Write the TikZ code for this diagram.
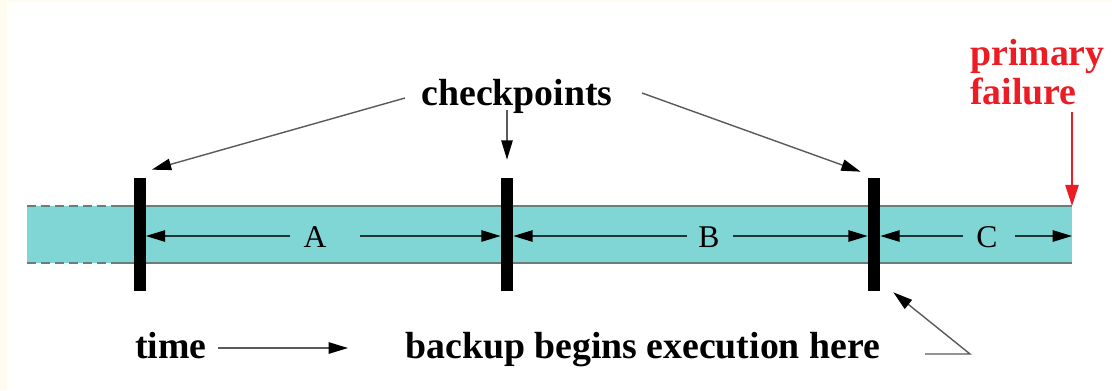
\documentclass[tikz,border=0pt]{standalone}
\usepackage{fontspec}
\setmainfont{Liberation Serif}
\usetikzlibrary{arrows.meta}
\definecolor{bandfill}{RGB}{128,213,213}
\definecolor{bandedge}{RGB}{105,125,125}
\definecolor{failred}{RGB}{236,28,36}
\definecolor{paper}{RGB}{255,251,238}
\definecolor{leader}{RGB}{90,90,90}
\tikzset{
  leaderline/.style={draw=leader, line width=0.8pt, arrows={-{Triangle[length=11pt,width=6.5pt,fill=black,color=black]}}},
  spanline/.style={draw=black!75!bandfill, line width=0.8pt, arrows={-{Triangle[length=11pt,width=6.5pt,fill=black,color=black]}}},
  ckbar/.style={fill=black, minimum width=0.24cm, minimum height=2.26cm, inner sep=0pt, draw=none},
  bigword/.style={font=\bfseries\fontsize{21.5}{24}\selectfont, inner sep=0pt},
  spanword/.style={font=\fontsize{18}{20}\selectfont, inner sep=0pt},
}
\begin{document}
\begin{tikzpicture}[x=0.02cm, y=-0.02cm]
  % page and its cream margin
  \useasboundingbox (0,0) rectangle (1112,390);
  \fill[white] (0,0) rectangle (1112,390);
  \fill[paper] (0,0) rectangle (7,390);
  \fill[paper] (0,0) rectangle (1112,2);

  % the time band
  \fill[bandfill] (27,206) rectangle (1072,263);
  \draw[bandedge, line width=0.9pt, dash pattern=on 5pt off 3pt] (27,206) -- (113,206);
  \draw[bandedge, line width=0.9pt, dash pattern=on 5pt off 3pt] (27,263) -- (113,263);
  \draw[bandedge, line width=0.9pt] (113,206) -- (1072,206);
  \draw[bandedge, line width=0.9pt] (113,263) -- (1072,263);

  % checkpoint bars
  \node[ckbar] (k1) at (139.5,234.5) {};
  \node[ckbar] (k2) at (507,234.5) {};
  \node[ckbar] (k3) at (874,234.5) {};

  % interval labels
  \node[spanword, anchor=base] (A) at (315,247) {A};
  \node[spanword, anchor=base] (B) at (709,247) {B};
  \node[spanword, anchor=base] (C) at (987,247) {C};
  \coordinate (aL) at (290,236);  \coordinate (aR) at (360,236);
  \coordinate (bL) at (687,236);  \coordinate (bR) at (733,236);
  \coordinate (cL) at (963,236);  \coordinate (cR) at (1015,236);
  \coordinate (fail) at (1072,206);
  \draw[spanline] (aL) -- (k1.east |- aL);
  \draw[spanline] (aR) -- (k2.west |- aR);
  \draw[spanline] (bL) -- (k2.east |- bL);
  \draw[spanline] (bR) -- (k3.west |- bR);
  \draw[spanline] (cL) -- (k3.east |- cL);
  \draw[spanline] (cR) -- (fail |- cR);

  % checkpoints callout
  \node[bigword, anchor=base] (cp) at (517,105) {checkpoints};
  \coordinate (cpl) at (405,98);
  \coordinate (cpm) at (507,110);
  \coordinate (cpr) at (642,93);
  \draw[leaderline] (cpl) -- ([xshift=0.12cm,yshift=0.16cm]k1.north east);
  \draw[leaderline] (cpm) -- ([yshift=0.36cm]k2.north);
  \draw[leaderline] (cpr) -- ([xshift=-0.14cm,yshift=0.12cm]k3.north west);

  % primary failure
  \node[bigword, text=failred, anchor=base west] (pf1) at (970,65) {primary};
  \node[bigword, text=failred, anchor=base west] (pf2) at (970,104) {failure};
  \coordinate (pfs) at (1072,112);
  \draw[draw=failred, line width=1.1pt, arrows={-{Triangle[length=12pt,width=7.5pt]}}] (pfs) -- (fail);

  % time axis label
  \node[bigword, anchor=base west] (time) at (135,358) {time};
  \coordinate (ts) at (218,348);
  \coordinate (te) at (348,348);
  \draw[leaderline] (ts) -- (te);

  % backup note
  \node[bigword, anchor=base west] (bk) at (405,358) {backup begins execution here};
  \coordinate (bs) at (925,354);
  \coordinate (bc) at (970,354);
  \draw[leaderline] (bs) -- (bc) -- ([xshift=0.26cm,yshift=-0.02cm]k3.south east);
\end{tikzpicture}
\end{document}
